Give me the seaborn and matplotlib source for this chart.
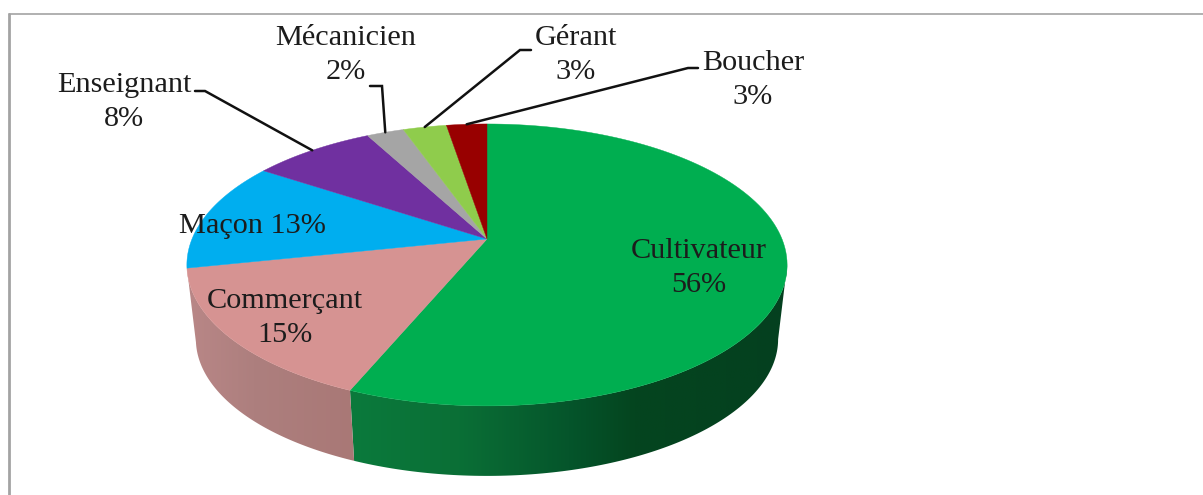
import numpy as np
import seaborn as sns
import matplotlib
matplotlib.use('Agg')
import matplotlib.pyplot as plt
from matplotlib.colors import LinearSegmentedColormap
from matplotlib.patches import Polygon

jobs = ['Cultivateur', 'Commerçant', 'Maçon', 'Enseignant', 'Mécanicien', 'Gérant', 'Boucher']
shares = [56.3, 15.4, 12.6, 7.9, 2.4, 2.8, 2.6]
pct_labels = ['56%', '15%', '13%', '8%', '2%', '3%', '3%']
top_colors = ['#00ae50', '#d69392', '#00aeef', '#7030a0', '#a5a5a5', '#8fcc4c', '#980000']
wall_colors = {
    0: [(0.0, '#0b7a3c'), (0.25, '#0a6f36'), (0.5, '#05552b'), (0.65, '#04451f'), (1.0, '#04401f')],
    1: [(0.0, '#b98787'), (0.4, '#ad7f7e'), (1.0, '#a97876')],
}

sns.set_theme(style='white')
plt.rcParams['font.family'] = ['Liberation Serif', 'DejaVu Serif']

W, H = 1203, 495
CX, CY = 487, 239
TILT = 0.184
WALL_SCALE = 0.97
WALL_DROP = 75


def project(t, scale=1.0, drop=0):
    # circle angle (degrees) -> pixel position on the tilted disc
    t = np.radians(t)
    d = 1 + TILT * np.sin(t)
    return (CX + scale * 295 * np.cos(t) / d,
            CY + drop - scale * 136.2 * np.sin(t) / d)


fig = plt.figure(figsize=(W / 100, H / 100), dpi=100)
ax = fig.add_axes([0, 0, 1, 1])

wedges, _ = ax.pie(shares, colors=sns.color_palette(top_colors), startangle=90, counterclock=False)

front = (190.6, 349.4)
for i, w in enumerate(wedges):
    t1, t2 = w.theta1 % 360, w.theta2 % 360
    if t2 < t1:
        t2 += 360
    # side wall under the slice, shaded left to right
    lo, hi = max(t1, front[0]), min(t2, front[1])
    if i in wall_colors and lo < hi:
        t = np.linspace(lo, hi, 120)
        xs1, ys1 = project(t)
        xs2, ys2 = project(t[::-1], WALL_SCALE, WALL_DROP)
        xs = np.r_[xs1, xs2]
        ys = np.r_[ys1, ys2]
        cmap = LinearSegmentedColormap.from_list('wall', wall_colors[i])
        im = ax.imshow(np.linspace(0, 1, 256)[None, :], cmap=cmap, aspect='auto', zorder=1,
                       extent=(xs.min(), xs.max(), ys.max(), ys.min()))
        poly = Polygon(np.c_[xs, ys], fc='none', ec='none', transform=ax.transData)
        ax.add_patch(poly)
        im.set_clip_path(poly)

    t = np.linspace(t1, t2, 120)
    xs, ys = project(t)
    ax.add_patch(Polygon(np.c_[np.r_[CX, xs], np.r_[CY, ys]], fc=w.get_facecolor(),
                         ec=w.get_facecolor(), lw=0.3, zorder=2))
    w.remove()

# labels
label_pos = [(699, 268), (285, 318), None, (124, 102), (346, 55), (576, 55), (753, 80)]
for i, pos in enumerate(label_pos):
    if pos is None:
        continue
    ax.text(pos[0], pos[1], jobs[i] + '\n' + pct_labels[i], ha='center', va='center',
            fontsize=21.8, color='#1c1c1c', linespacing=1.43, zorder=4)
ax.text(252, 226, jobs[2] + ' ' + pct_labels[2], ha='center', va='center',
        fontsize=21.8, color='#1c1c1c', zorder=4)

# leader lines, from the label elbow to the middle of the slice rim
elbows = {
    3: [(195, 91), (205, 91)],
    4: [(370, 86), (382, 86)],
    5: [(531, 50), (520, 50)],
    6: [(698, 68), (688, 68)],
}
for i, pts in elbows.items():
    mid = (wedges[i].theta1 + wedges[i].theta2) / 2
    ex, ey = project(mid)
    ax.plot([pts[0][0], pts[1][0], ex], [pts[0][1], pts[1][1], ey],
            color='#111111', lw=1.8, zorder=3, solid_joinstyle='miter')

# frame of the original screenshot
ax.plot([8.5, W], [14, 14], color='#a3a3a3', lw=1.2, zorder=0)
ax.plot([8.5, 8.5], [14, H], color='#a3a3a3', lw=2, zorder=0)

ax.set_aspect('auto')
ax.set_xlim(0, W)
ax.set_ylim(H, 0)
ax.axis('off')

fig.savefig('out.png', dpi=100, facecolor='white')
